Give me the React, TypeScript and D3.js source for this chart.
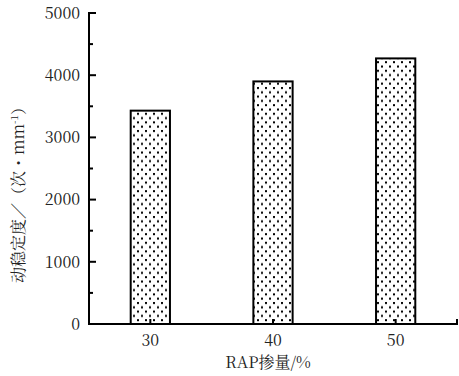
import * as d3 from 'd3'

const rapContent = [30, 40, 50]
const stability = [3430, 3900, 4270]
const yTicks = [0, 1000, 2000, 3000, 4000, 5000]
const yMinorTicks = [500, 1500, 2500, 3500, 4500]

const W = 459
const H = 376

export default function App(): JSX.Element {
  const x = d3.scaleLinear().domain([25, 55]).range([89, 457])
  const y = d3.scaleLinear().domain([0, 5000]).range([324, 13])
  const barHalf = 1.6
  const font = "'Noto Serif CJK SC', 'Liberation Serif', serif"

  return (
    <svg
      width={W}
      height={H}
      style={{ position: 'absolute', left: 0, top: 0, background: '#fff' }}
    >
      <defs>
        <pattern id="dots" width={8} height={8.6} patternUnits="userSpaceOnUse">
          <rect width={8} height={8.6} fill="#fff" />
          <rect x={1} y={1} width={2} height={2} fill="#000" />
          <rect x={5} y={5.3} width={2} height={2} fill="#000" />
        </pattern>
      </defs>

      {rapContent.map((c, i) => (
        <rect
          key={c}
          x={x(c - barHalf)}
          y={y(stability[i])}
          width={x(c + barHalf) - x(c - barHalf)}
          height={y(0) - y(stability[i])}
          fill="url(#dots)"
          stroke="#000"
          strokeWidth={2}
        />
      ))}

      {/* y axis */}
      <line x1={x(25)} x2={x(25)} y1={y(5000) - 1} y2={y(0) + 1} stroke="#000" strokeWidth={2} />
      {yTicks.map((t) => (
        <g key={t}>
          <line x1={x(25)} x2={x(25) + 7} y1={y(t)} y2={y(t)} stroke="#000" strokeWidth={2} />
          <text
            x={80}
            y={y(t)}
            dy="0.36em"
            textAnchor="end"
            style={{ fontFamily: font, fontSize: 16 }}
            fill="#222"
          >
            {t}
          </text>
        </g>
      ))}
      {yMinorTicks.map((t) => (
        <line key={t} x1={x(25)} x2={x(25) + 4} y1={y(t)} y2={y(t)} stroke="#000" strokeWidth={2} />
      ))}

      {/* x axis */}
      <line x1={x(25) - 1} x2={x(55) + 1} y1={y(0)} y2={y(0)} stroke="#000" strokeWidth={2} />
      <line x1={x(55)} x2={x(55)} y1={y(0)} y2={y(0) - 5} stroke="#000" strokeWidth={2} />
      {rapContent.map((c) => (
        <g key={c}>
          <line x1={x(c)} x2={x(c)} y1={y(0)} y2={y(0) - 5} stroke="#000" strokeWidth={2} />
          <text
            x={x(c)}
            y={346}
            textAnchor="middle"
            style={{ fontFamily: font, fontSize: 16 }}
            fill="#222"
          >
            {c}
          </text>
        </g>
      ))}

      <text
        x={268}
        y={368}
        textAnchor="middle"
        style={{ fontFamily: font, fontSize: 16 }}
        fill="#222"
      >
        RAP掺量/%
      </text>

      <text
        transform={`translate(24, ${191}) rotate(-90)`}
        textAnchor="middle"
        style={{ fontFamily: font, fontSize: 16 }}
        fill="#222"
      >
        动稳定度／（次・mm
        <tspan style={{ fontSize: 10 }} dy={-6}>
          -1
        </tspan>
        <tspan dy={6}>）</tspan>
      </text>
    </svg>
  )
}
